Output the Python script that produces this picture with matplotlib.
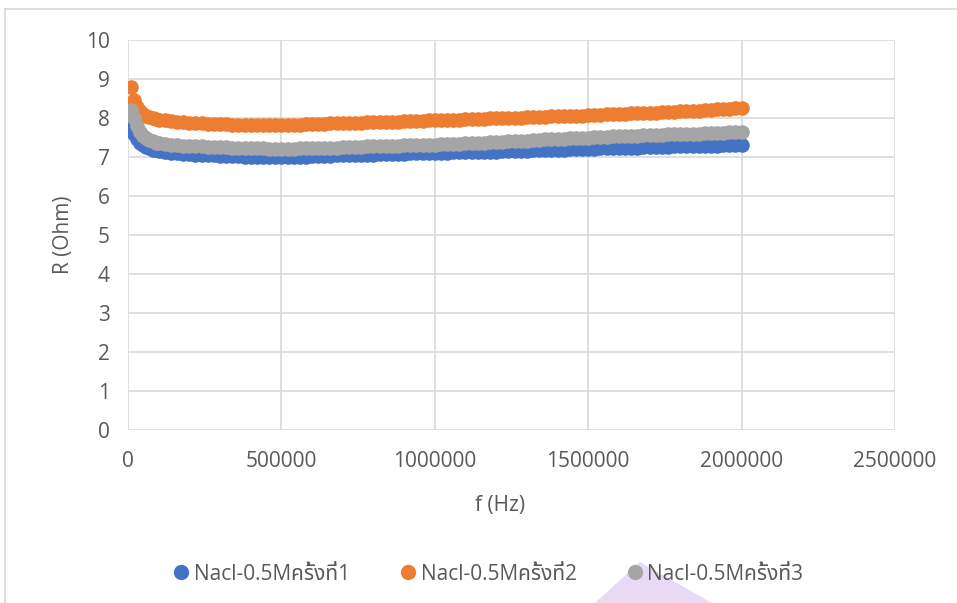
import matplotlib
matplotlib.use("Agg")
import matplotlib.pyplot as plt
from matplotlib.patches import Polygon
from matplotlib.lines import Line2D

# ---------------- data ----------------
freq = [10000, 20000, 30000, 40000, 50000, 60000, 70000, 80000, 90000, 100000] + \
       list(range(120000, 2000001, 20000))

r_run1 = [7.85, 7.60, 7.45, 7.37, 7.30, 7.25, 7.22, 7.19, 7.17, 7.15,
          7.13, 7.11, 7.10, 7.08, 7.07, 7.06, 7.05, 7.05, 7.04, 7.03,
          7.03, 7.02, 7.02, 7.01, 7.01, 7.00, 7.00, 7.00, 7.00, 7.00,
          7.00, 7.01, 7.01, 7.01, 7.02, 7.02, 7.03, 7.03, 7.04, 7.04,
          7.05, 7.05, 7.05, 7.06, 7.06, 7.07, 7.07, 7.07, 7.08, 7.08,
          7.09, 7.09, 7.10, 7.10, 7.10, 7.11, 7.11, 7.12, 7.12, 7.12,
          7.13, 7.13, 7.14, 7.14, 7.14, 7.15, 7.15, 7.16, 7.16, 7.16,
          7.17, 7.17, 7.18, 7.18, 7.19, 7.19, 7.20, 7.20, 7.20, 7.21,
          7.21, 7.22, 7.22, 7.22, 7.23, 7.23, 7.24, 7.24, 7.25, 7.25,
          7.25, 7.26, 7.26, 7.27, 7.27, 7.27, 7.28, 7.28, 7.29, 7.29,
          7.29, 7.30, 7.30, 7.31, 7.31]

r_run2 = [8.80, 8.45, 8.28, 8.18, 8.11, 8.06, 8.03, 8.00, 7.98, 7.96,
          7.94, 7.92, 7.91, 7.89, 7.88, 7.87, 7.86, 7.85, 7.85, 7.84,
          7.84, 7.83, 7.83, 7.83, 7.82, 7.82, 7.82, 7.82, 7.82, 7.82,
          7.83, 7.83, 7.83, 7.84, 7.84, 7.85, 7.85, 7.86, 7.86, 7.87,
          7.87, 7.88, 7.88, 7.89, 7.89, 7.90, 7.90, 7.91, 7.91, 7.92,
          7.92, 7.93, 7.93, 7.94, 7.94, 7.95, 7.95, 7.96, 7.96, 7.97,
          7.97, 7.98, 7.98, 7.99, 7.99, 8.00, 8.00, 8.01, 8.01, 8.02,
          8.02, 8.03, 8.03, 8.04, 8.04, 8.05, 8.05, 8.06, 8.06, 8.07,
          8.08, 8.08, 8.09, 8.10, 8.10, 8.11, 8.12, 8.12, 8.13, 8.14,
          8.14, 8.15, 8.16, 8.16, 8.17, 8.18, 8.18, 8.19, 8.20, 8.21,
          8.22, 8.23, 8.24, 8.25, 8.26]

r_run3 = [8.20, 8.00, 7.80, 7.65, 7.55, 7.48, 7.43, 7.40, 7.37, 7.35,
          7.33, 7.32, 7.30, 7.29, 7.28, 7.28, 7.27, 7.26, 7.26, 7.25,
          7.25, 7.24, 7.24, 7.23, 7.23, 7.22, 7.22, 7.21, 7.21, 7.21,
          7.21, 7.21, 7.22, 7.22, 7.22, 7.23, 7.23, 7.24, 7.24, 7.25,
          7.25, 7.26, 7.26, 7.27, 7.27, 7.28, 7.28, 7.29, 7.29, 7.30,
          7.30, 7.31, 7.31, 7.32, 7.32, 7.33, 7.33, 7.34, 7.34, 7.35,
          7.36, 7.37, 7.37, 7.38, 7.39, 7.39, 7.40, 7.41, 7.42, 7.42,
          7.43, 7.44, 7.45, 7.46, 7.46, 7.47, 7.48, 7.49, 7.50, 7.50,
          7.51, 7.52, 7.52, 7.53, 7.54, 7.54, 7.55, 7.55, 7.56, 7.56,
          7.57, 7.57, 7.58, 7.58, 7.59, 7.59, 7.60, 7.60, 7.61, 7.61,
          7.62, 7.62, 7.63, 7.63, 7.64]

series_names = ["Nacl-0.5Mครั้งที่1", "Nacl-0.5Mครั้งที่2", "Nacl-0.5Mครั้งที่3"]
series_colors = ["#4472C4", "#ED7D31", "#A5A5A5"]
x_ticks = [0, 500000, 1000000, 1500000, 2000000, 2500000]
y_ticks = list(range(0, 11))

# ---------------- style ----------------
plt.rcParams["font.family"] = ["Open Sans", "Noto Sans Thai", "DejaVu Sans"]
text_color = "#595959"
grid_color = "#D9D9D9"

fig = plt.figure(figsize=(9.57, 6.03), dpi=100)
ax = fig.add_axes([128 / 957, 1 - 430 / 603, (895 - 128) / 957, (430 - 40) / 603])

for vals, col in zip([r_run1, r_run2, r_run3], series_colors):
    ax.plot(freq, vals, linestyle="none", marker="o", markersize=10.5,
            markerfacecolor=col, markeredgecolor=col, markeredgewidth=0, zorder=3)

ax.set_xlim(0, 2500000)
ax.set_ylim(0, 10)
ax.set_xticks(x_ticks)
ax.set_xticklabels([str(v) for v in x_ticks])
ax.set_yticks(y_ticks)
ax.set_yticklabels([str(v) for v in y_ticks])
ax.tick_params(axis="both", length=0, labelsize=15, colors=text_color)
ax.tick_params(axis="y", pad=13)
ax.tick_params(axis="x", pad=15)
ax.grid(True, color=grid_color, linewidth=1.2, zorder=0)
ax.set_axisbelow(True)
for s in ax.spines.values():
    s.set_visible(False)

ax.set_xlabel("f (Hz)", fontsize=15, color=text_color)
ax.xaxis.set_label_coords((500 - 128) / 767, -(505 - 430) / 390)
ax.xaxis.label.set_va("center")
ax.set_ylabel("R (Ohm)", fontsize=15, color=text_color)
ax.yaxis.set_label_coords(-(128 - 64) / 767, (430 - 235) / 390)
ax.yaxis.label.set_va("center")

# watermark shape behind legend
wm = Polygon([[595 / 957, 0], [640 / 957, 41 / 603], [712 / 957, 0]],
             closed=True, transform=fig.transFigure, facecolor="#E8DAF5",
             edgecolor="none", zorder=0)
fig.patches.append(wm)

# chart border
fig.add_artist(Line2D([5 / 957, 1], [1 - 9 / 603, 1 - 9 / 603], color=grid_color, lw=1.2))
fig.add_artist(Line2D([5 / 957, 5 / 957], [0, 1 - 9 / 603], color=grid_color, lw=1.2))

handles = [Line2D([], [], linestyle="none", marker="o", markersize=10,
                  markerfacecolor=c, markeredgecolor=c) for c in series_colors]
leg = fig.legend(handles, series_names, loc="center", bbox_to_anchor=(486 / 957, 1 - 574 / 603),
                 ncol=3, frameon=False, handletextpad=0.0, columnspacing=2.2,
                 handlelength=1.2, prop={"size": 15})
for t in leg.get_texts():
    t.set_color(text_color)

fig.savefig("out.png", dpi=100)
